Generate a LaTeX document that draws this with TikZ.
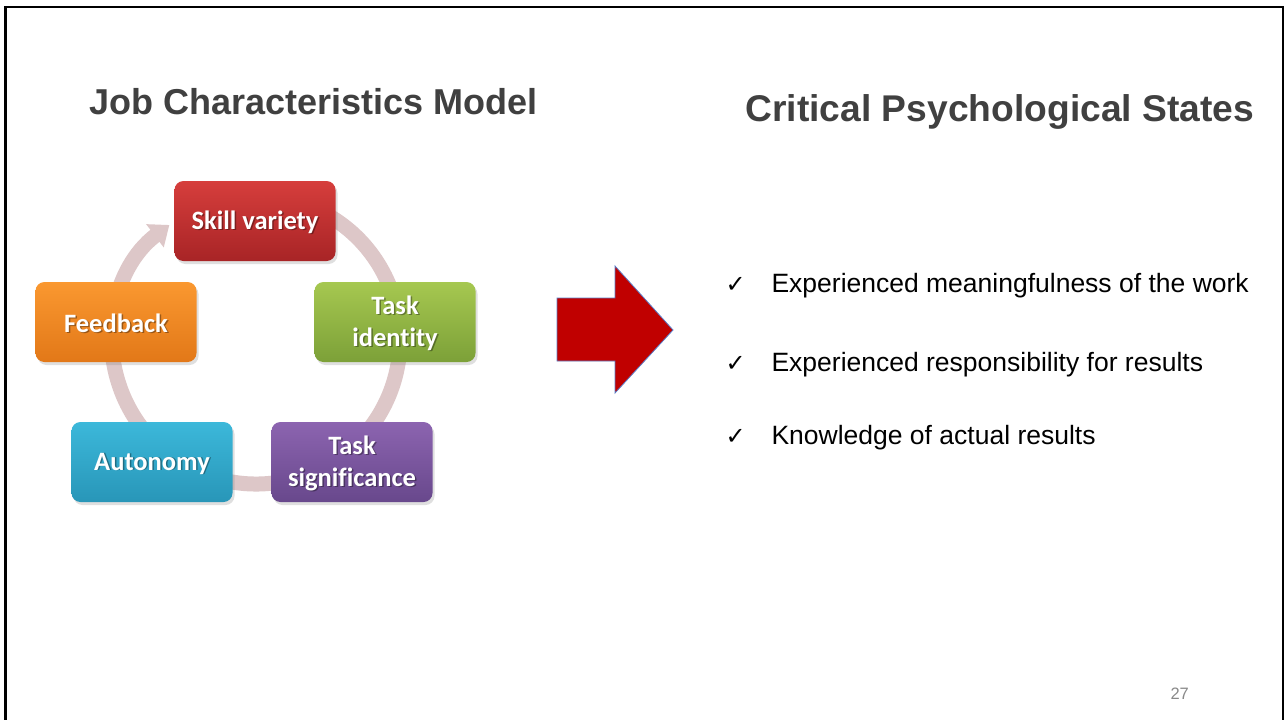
\documentclass[tikz,border=0pt]{standalone}
\usepackage{fontspec}
\setmainfont{Liberation Sans}
\newfontfamily\boxfont[Ligatures=NoCommon]{Carlito}
\newfontfamily\symfont{DejaVu Sans}
\usetikzlibrary{arrows.meta,shadows}
\definecolor{titlegray}{RGB}{64,64,64}
\definecolor{pagegray}{RGB}{137,137,137}
\definecolor{ringpink}{RGB}{221,199,200}
\definecolor{arrowred}{RGB}{192,0,0}
\definecolor{arrowblue}{RGB}{90,125,200}
\definecolor{skill-top}{RGB}{214,62,60}
\definecolor{skill-bot}{RGB}{168,36,38}
\definecolor{ident-top}{RGB}{166,200,80}
\definecolor{ident-bot}{RGB}{124,160,56}
\definecolor{signif-top}{RGB}{140,100,176}
\definecolor{signif-bot}{RGB}{104,72,140}
\definecolor{auto-top}{RGB}{60,184,218}
\definecolor{auto-bot}{RGB}{40,150,184}
\definecolor{feed-top}{RGB}{250,152,48}
\definecolor{feed-bot}{RGB}{226,120,24}

\begin{document}
\begin{tikzpicture}[x=1pt,y=-1pt,
    jobbox/.style={rounded corners=9pt,minimum width=161pt,minimum height=80pt,
      drop shadow={shadow xshift=2pt,shadow yshift=-3pt,opacity=0.25}},
    boxlabel/.style={align=center,text=white,font=\boxfont\bfseries\fontsize{26.5}{32}\selectfont},
    heading/.style={anchor=base west,text=titlegray,font=\bfseries\fontsize{36}{40}\selectfont},
    bullet/.style={anchor=base west,font=\fontsize{26.5}{30}\selectfont}]
  \useasboundingbox (0,0) rectangle (1285,720);
  \fill[white] (0,0) rectangle (1285,720);

  % Slide frame
  \draw[line width=2.5pt] (5.5,725) -- (5.5,7) -- (1283,7) -- (1283,725);

  % Titles
  \node[heading] (jcm) at (86,114) {Job Characteristics Model};
  \node[heading,font=\bfseries\fontsize{37.2}{40}\selectfont] (cps) at (742,121) {Critical Psychological States};

  % Cycle ring behind the boxes
  \coordinate (ring) at (256,340);
  \draw[ringpink,line width=15pt,-{Triangle[width=28pt,length=18pt]}]
    ([shift={(-478:144)}]ring) arc[start angle=-478,end angle=-127,radius=144];

  % Job characteristics
  \foreach \name/\pos/\txt in {skill/{(255,221)}/{Skill variety},
      ident/{(395,322)}/{Task\\identity},
      signif/{(352,462)}/{Task\\significance},
      auto/{(152,462)}/{Autonomy},
      feed/{(116,322)}/{Feedback}} {
    \node[jobbox,top color=\name-top,bottom color=\name-bot] (\name) at \pos {};
    \node[boxlabel,text=black,opacity=0.35] at ([shift={(1.5,2)}]\name) {\txt};
    \node[boxlabel] (\name-text) at ([yshift=-1.5pt]\name) {\txt};
  }

  % Big arrow
  \draw[fill=arrowred,draw=arrowblue,line width=0.8pt]
    (557,298) -- (615,298) -- (615,266) -- (673,330) -- (615,393)
    -- (615,361) -- (557,361) -- cycle;

  % States
  \foreach \txt/\yy [count=\i] in {Experienced meaningfulness of the work/292,
      Experienced responsibility for results/371,
      Knowledge of actual results/444} {
    \node[bullet,font=\symfont\fontsize{24}{28}\selectfont] (tick\i) at (722,\yy) {✓};
    \node[bullet] (state\i) at (768,\yy) {\txt};
  }

  % Page number
  \node[anchor=base west,text=pagegray,font=\fontsize{16.5}{18}\selectfont] (page) at (1167,699) {27};
\end{tikzpicture}
\end{document}
